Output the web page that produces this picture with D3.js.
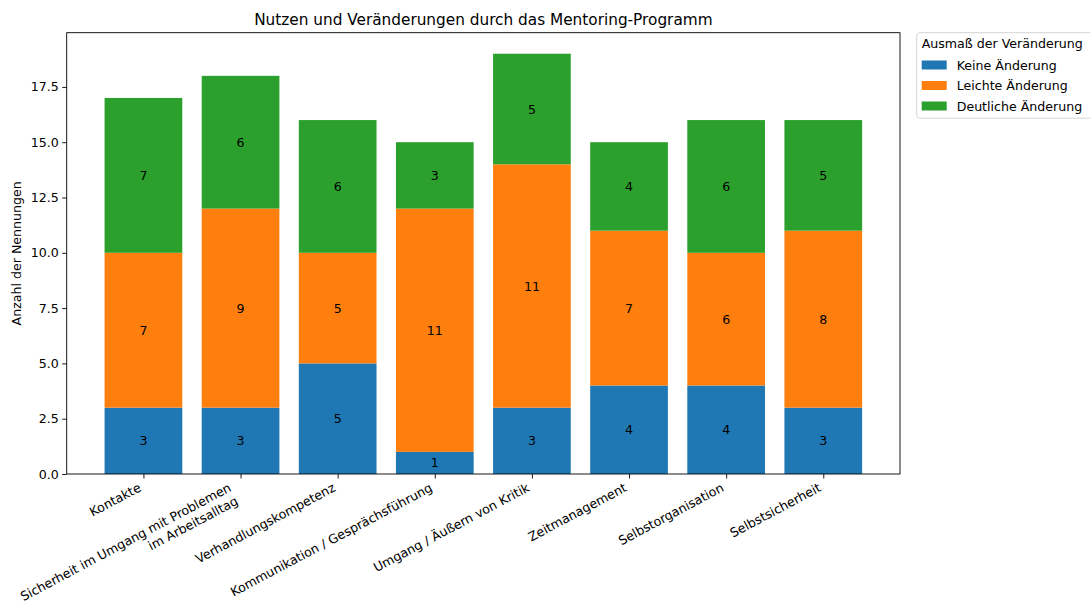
<!DOCTYPE html>
<html>
<head>
<meta charset="utf-8">
<script src="https://cdn.jsdelivr.net/npm/d3@7"></script>
<style>
  html, body { margin: 0; padding: 0; background: #fff; }
  svg { display: block; font-family: "DejaVu Sans", sans-serif; }
</style>
</head>
<body>
<svg id="chart" width="1090" height="610"></svg>
<script>
const categories = [
  "Kontakte",
  "Sicherheit im Umgang mit Problemen\nim Arbeitsalltag",
  "Verhandlungskompetenz",
  "Kommunikation / Gesprächsführung",
  "Umgang / Äußern von Kritik",
  "Zeitmanagement",
  "Selbstorganisation",
  "Selbstsicherheit"
];
const seriesNames = ["Keine Änderung", "Leichte Änderung", "Deutliche Änderung"];
const keineAenderung = [3, 3, 5, 1, 3, 4, 4, 3];
const leichteAenderung = [7, 9, 5, 11, 11, 7, 6, 8];
const deutlicheAenderung = [7, 6, 6, 3, 5, 4, 6, 5];
const seriesColors = ["#1f77b4", "#ff7f0e", "#2ca02c"];
const yTicks = [0, 2.5, 5, 7.5, 10, 12.5, 15, 17.5];
const titleText = "Nutzen und Veränderungen durch das Mentoring-Programm";
const yLabel = "Anzahl der Nennungen";
const legendTitle = "Ausmaß der Veränderung";

const svg = d3.select("#chart");
const FS = 12.6;
const plot = { left: 66.7, right: 900, top: 32.7, bottom: 474 };

const rows = categories.map((c, i) => ({
  cat: c, i,
  "Keine Änderung": keineAenderung[i],
  "Leichte Änderung": leichteAenderung[i],
  "Deutliche Änderung": deutlicheAenderung[i]
}));
const stack = d3.stack().keys(seriesNames)(rows);
const maxTotal = d3.max(stack[stack.length - 1], d => d[1]);

const barW = 0.8;
const n = categories.length;
const xMargin = ((n - 1) + barW) * 0.05;
const x = d3.scaleLinear()
  .domain([-barW / 2 - xMargin, (n - 1) + barW / 2 + xMargin])
  .range([plot.left, plot.right]);
const y = d3.scaleLinear()
  .domain([0, maxTotal * 1.05])
  .range([plot.bottom, plot.top]);
const color = d3.scaleOrdinal().domain(seriesNames).range(seriesColors);

// bars
const layers = svg.append("g").selectAll("g").data(stack).join("g")
  .attr("fill", d => color(d.key));
layers.selectAll("rect").data(d => d).join("rect")
  .attr("x", d => x(d.data.i - barW / 2))
  .attr("width", d => x(barW) - x(0))
  .attr("y", d => y(d[1]))
  .attr("height", d => y(d[0]) - y(d[1]));

// bar labels
layers.selectAll("text").data(d => d).join("text")
  .attr("x", d => x(d.data.i))
  .attr("y", d => (y(d[0]) + y(d[1])) / 2)
  .attr("dy", "0.36em")
  .attr("text-anchor", "middle")
  .attr("font-size", FS)
  .attr("fill", "#000")
  .text(d => d[1] - d[0]);

// y axis
const yAxis = svg.append("g")
  .attr("transform", `translate(${plot.left},0)`)
  .call(d3.axisLeft(y).tickValues(yTicks).tickFormat(d3.format(".1f")).tickSize(4.5).tickPadding(3.5));
yAxis.select(".domain").remove();
yAxis.selectAll("line").attr("stroke", "#000").attr("stroke-width", 0.9);
yAxis.selectAll("text").attr("font-size", FS).attr("fill", "#000")
  .attr("font-family", "DejaVu Sans, sans-serif");

// x axis ticks
const xAxis = svg.append("g")
  .attr("transform", `translate(0,${plot.bottom})`)
  .call(d3.axisBottom(x).tickValues(d3.range(n)).tickFormat("").tickSize(4.5));
xAxis.select(".domain").remove();
xAxis.selectAll("line").attr("stroke", "#000").attr("stroke-width", 0.9);

// rotated x labels (right-aligned, anchored at the tick)
const ANG = 28;
const asc = 0.76 * FS, desc = 0.24 * FS, lineH = 1.2 * FS;
const pad = 8;
const cosA = Math.cos(ANG * Math.PI / 180), sinA = Math.sin(ANG * Math.PI / 180);
const xl = svg.append("g");
categories.forEach((c, i) => {
  const lines = c.split("\n");
  const blockH = (lines.length - 1) * lineH + desc;
  const ax = x(i) - sinA * blockH;
  const ay = plot.bottom + pad + cosA * asc;
  const t = xl.append("text")
    .attr("transform", `translate(${ax},${ay}) rotate(${-ANG})`)
    .attr("text-anchor", "end")
    .attr("font-size", FS)
    .attr("fill", "#000");
  lines.forEach((ln, k) => {
    t.append("tspan").attr("x", 0).attr("y", k * lineH).text(ln);
  });
});

// frame
svg.append("rect")
  .attr("x", plot.left).attr("y", plot.top)
  .attr("width", plot.right - plot.left).attr("height", plot.bottom - plot.top)
  .attr("fill", "none").attr("stroke", "#000").attr("stroke-width", 0.9);

// title
svg.append("text")
  .attr("x", (plot.left + plot.right) / 2).attr("y", 24.5)
  .attr("text-anchor", "middle").attr("font-size", 15.3).attr("fill", "#000")
  .text(titleText);

// y label
svg.append("text")
  .attr("transform", `translate(21,${(plot.top + plot.bottom) / 2}) rotate(-90)`)
  .attr("text-anchor", "middle").attr("font-size", FS).attr("fill", "#000")
  .text(yLabel);

// legend
const lg = svg.append("g");
lg.append("rect")
  .attr("x", 916.7).attr("y", 32.7).attr("width", 178).attr("height", 85.5)
  .attr("rx", 3).attr("fill", "#fff").attr("fill-opacity", 0.8)
  .attr("stroke", "#d0d0d0").attr("stroke-width", 0.9);
lg.append("text")
  .attr("x", 921.7).attr("y", 47.5)
  .attr("text-anchor", "start").attr("font-size", FS).attr("fill", "#000")
  .text(legendTitle);
const entryY = [65, 85.5, 106];
seriesNames.forEach((s, k) => {
  lg.append("rect")
    .attr("x", 921.7).attr("y", entryY[k] - 4.5).attr("width", 25).attr("height", 9)
    .attr("fill", color(s));
  lg.append("text")
    .attr("x", 956.7).attr("y", entryY[k]).attr("dy", "0.36em")
    .attr("font-size", FS).attr("fill", "#000")
    .text(s);
});
</script>
</body>
</html>
